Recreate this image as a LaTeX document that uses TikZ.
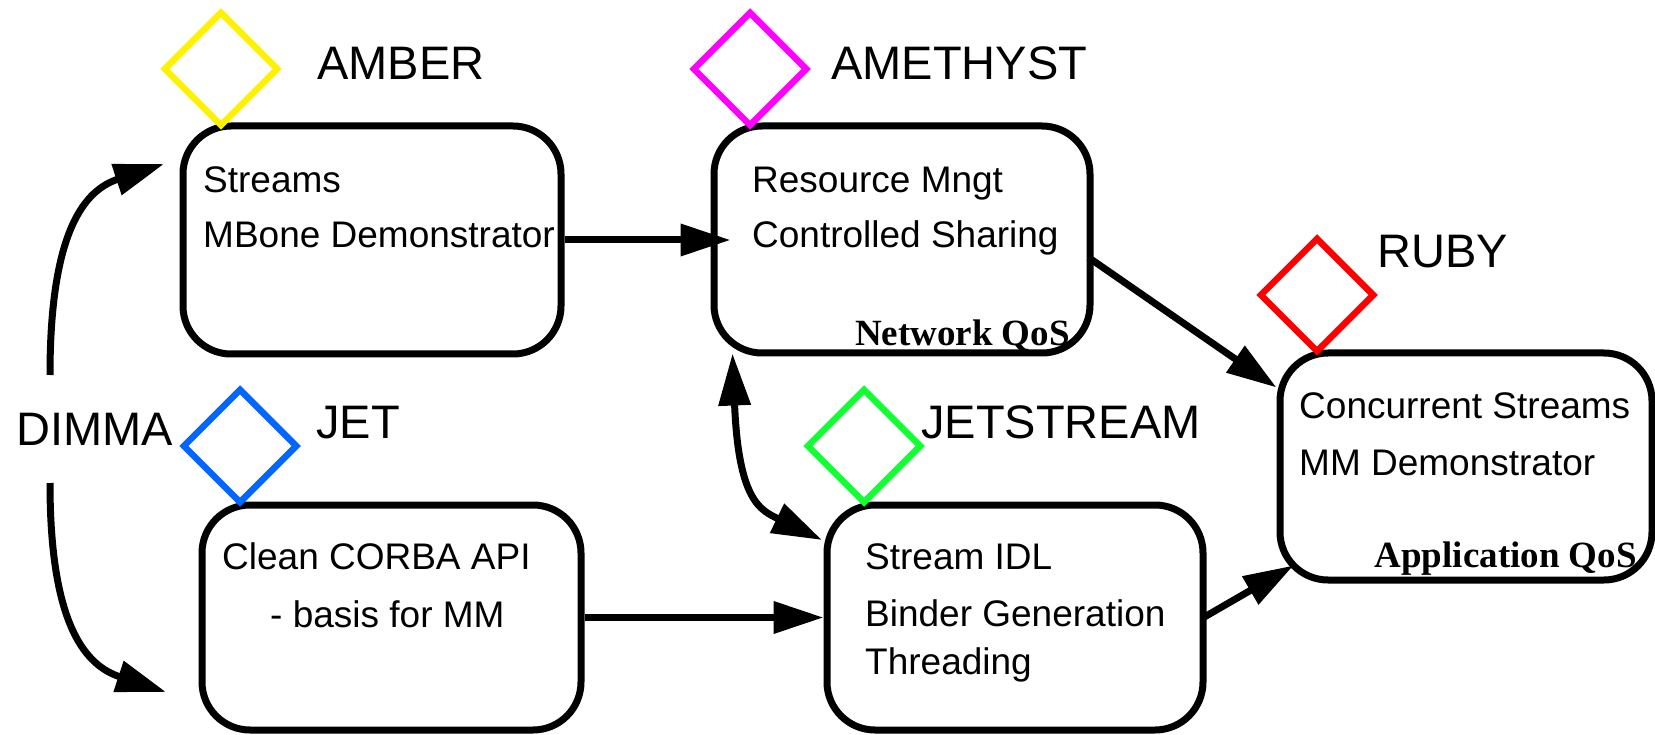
\documentclass[tikz,border=0pt]{standalone}
\usepackage{fontspec}
\setmainfont{Liberation Sans}
\newfontfamily\qosfont{Liberation Serif}
\usetikzlibrary{arrows.meta,shapes.geometric,calc}

\definecolor{ambergem}{RGB}{255,242,0}
\definecolor{amethystgem}{RGB}{255,0,255}
\definecolor{rubygem}{RGB}{255,0,0}
\definecolor{jetgem}{RGB}{0,102,255}
\definecolor{jetstreamgem}{RGB}{17,255,51}

\begin{document}
\begin{tikzpicture}[x=1pt,y=-1pt,
  box/.style={draw,line width=7pt,rounded corners=48pt,inner sep=0pt},
  gem/.style={draw=#1,line width=6.5pt,shape=diamond,minimum width=115pt,
              minimum height=115pt,inner sep=0pt},
  tag/.style={anchor=base west,inner sep=0pt,font=\fontsize{47}{50}\selectfont},
  body/.style={anchor=base west,inner sep=0pt,font=\fontsize{37}{40}\selectfont},
  qos/.style={anchor=base east,inner sep=0pt,font=\fontsize{37}{40}\qosfont\bfseries},
  flow/.style={line width=7pt,-{Triangle[length=50pt,width=31pt]}},
  twoway/.style={line width=7pt,{Triangle[length=52pt,width=31pt]}-{Triangle[length=50pt,width=31pt]}}]

\useasboundingbox (0,0) rectangle (1655,735);
\fill[white] (0,0) rectangle (1655,735);

% project boxes
\node[box,minimum width=378pt,minimum height=228pt] (amber) at (372,240) {};
\node[box,minimum width=376pt,minimum height=227pt] (amethyst) at (902,239.5) {};
\node[box,minimum width=379pt,minimum height=225pt] (jet) at (391.5,617.5) {};
\node[box,minimum width=376pt,minimum height=225pt] (jetstream) at (1015,617.5) {};
\node[box,minimum width=372pt,minimum height=227pt] (ruby) at (1466,466.5) {};

% coloured gems sitting on the boxes
\node[gem=ambergem] (ambergem) at (221,69) {};
\node[gem=amethystgem] (amethystgem) at (750,69) {};
\node[gem=rubygem] (rubygem) at (1317,295) {};
\node[gem=jetgem] (jetgem) at (240,446) {};
\node[gem=jetstreamgem] (jetstreamgem) at (864,446) {};

% project names
\node[tag] (amberl) at (317,80) {AMBER};
\node[tag] (amethystl) at (831,80) {AMETHYST};
\node[tag] (rubyl) at (1377,268) {RUBY};
\node[tag] (jetl) at (316,438) {JET};
\node[tag] (jetstreaml) at (921,438) {JETSTREAM};
\node[tag] (dimma) at (16,445) {DIMMA};

% box contents
\node[body] (amber1) at (203,193) {Streams};
\node[body] (amber2) at (203,248) {MBone Demonstrator};
\node[body] (ame1) at (752,193) {Resource Mngt};
\node[body] (ame2) at (752,248) {Controlled Sharing};
\node[qos] (ameq) at (1070,345) {Network QoS};
\node[body] (ruby1) at (1299,418) {Concurrent Streams};
\node[body] (ruby2) at (1299,475) {MM Demonstrator};
\node[qos] (rubyq) at (1637,567) {Application QoS};
\node[body] (jet1) at (222,569) {Clean CORBA API};
\node[body] (jet2) at (270,627) {- basis for MM};
\node[body] (js1) at (865,569) {Stream IDL};
\node[body] (js2) at (865,626) {Binder Generation};
\node[body] (js3) at (865,674) {Threading};

% DIMMA arrows
\coordinate (dimup0) at (50,375);
\coordinate (dimup1) at (164,164);
\coordinate (dimdn0) at (50,483);
\coordinate (dimdn1) at (166,692);
\draw[flow] (dimup0) .. controls +(0,-145) and +(-79,26) .. (dimup1);
\draw[flow] (dimdn0) .. controls +(0,145) and +(-79,-26) .. (dimdn1);

% connections between projects
\draw[flow] (amber.east) -- ($(amber.east -| amethyst.west)+(20,0)$);
\draw[flow] (jet.east) -- (jetstream.west);
\draw[flow] ($(amethyst.east)+(-5,18)$) -- ($(ruby.north west)+(0,38)$);
\draw[flow] ($(jetstream.east)+(-3,0)$) -- ($(ruby.south west)+(17,-18)$);
\draw[twoway] ($(amethyst.south west)+(22,-3)$) .. controls +(6,147) and +(-62,-30) .. ($(jetstream.north west)+(-1.5,38.5)$);

\end{tikzpicture}
\end{document}
